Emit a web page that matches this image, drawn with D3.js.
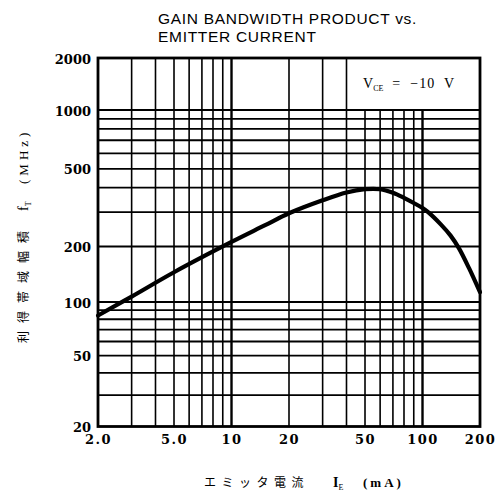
<!DOCTYPE html>
<html><head><meta charset="utf-8">
<script src="https://cdn.jsdelivr.net/npm/d3@7"></script>
<style>body{margin:0;background:#fff}svg{display:block}text{white-space:pre}</style>
</head><body>
<svg id="c" width="497" height="494"></svg>
<script>
// ---- data ----
const currentIE = [2, 3, 5, 10, 15, 20, 30, 40, 50, 60, 70, 80, 90, 100, 107, 125, 140, 155, 175, 200];
const gainFT    = [84, 107, 145, 211, 257, 296, 345, 378, 393, 393, 377, 355, 334, 315, 300, 259, 228, 196, 153, 113];
const xTickValues = [2, 5, 10, 20, 50, 100, 200];
const xTickLabels = ["2.0", "5.0", "10", "20", "50", "100", "200"];
const yTickValues = [20, 50, 100, 200, 500, 1000, 2000];
const yTickLabels = ["20", "50", "100", "200", "500", "1000", "2000"];
const xGridValues = [3, 4, 5, 6, 7, 8, 9, 10, 20, 30, 40, 50, 60, 70, 80, 90, 100];
const yGridValues = [30, 40, 50, 60, 70, 80, 90, 100, 200, 300, 400, 500, 600, 700, 800, 900, 1000];
const titleLines = ["GAIN BANDWIDTH PRODUCT vs.", "EMITTER CURRENT"];

const svg = d3.select("#c");
const x = d3.scaleLog().domain([2, 200]).range([98, 480]);
// piecewise log scale, following the printed grid
const y = d3.scaleLog().domain([20, 100, 200, 1000, 2000]).range([426.5, 302, 246.5, 110, 58]);
const decade = v => Math.abs(Math.log10(v) - Math.round(Math.log10(v))) < 1e-9;

// grid (verticals right of 40 mA stop at the 1000 line, leaving room for the note)
svg.append("g").selectAll("line").data(xGridValues).join("line")
  .attr("x1", d => x(d)).attr("x2", d => x(d))
  .attr("y1", y(20)).attr("y2", d => d >= 50 ? y(1000) : y(2000))
  .attr("stroke", "#000").attr("stroke-width", d => decade(d) ? 2.4 : 1.6);
svg.append("g").selectAll("line").data(yGridValues).join("line")
  .attr("y1", d => y(d)).attr("y2", d => y(d))
  .attr("x1", x(2)).attr("x2", x(200))
  .attr("stroke", "#000").attr("stroke-width", 1.8);

// frame
svg.append("rect").attr("x", x(2)).attr("y", y(2000))
  .attr("width", x(200) - x(2)).attr("height", y(20) - y(2000))
  .attr("fill", "none").attr("stroke", "#000").attr("stroke-width", 2.8);

// annotation
const ann = svg.append("text").attr("x", 363).attr("y", 88)
  .attr("font-family", "Liberation Serif, serif").attr("font-size", 14).attr("fill", "#000");
ann.append("tspan").text("V");
ann.append("tspan").attr("font-size", 8).attr("dy", 3).text("CE");
ann.append("tspan").attr("dy", -3).attr("letter-spacing", "1px").text("  =  −10  V");

// curve
const pts = currentIE.map((v, i) => [v, gainFT[i]]);
svg.append("path").datum(pts)
  .attr("d", d3.line().x(d => x(d[0])).y(d => y(d[1])).curve(d3.curveCatmullRom.alpha(0.5)))
  .attr("fill", "none").attr("stroke", "#000").attr("stroke-width", 4.2).attr("stroke-linecap", "round");

// axes (labels only)
const xAxis = d3.axisBottom(x).tickValues(xTickValues)
  .tickFormat((d, i) => xTickLabels[i]).tickSize(0).tickPadding(8);
const gx = svg.append("g").attr("transform", `translate(0,${y(20)})`).call(xAxis);
gx.select(".domain").remove();
gx.selectAll("text").attr("font-family", "DejaVu Serif, serif").attr("font-weight", "bold")
  .attr("font-size", 13).attr("letter-spacing", "1.5px").attr("fill", "#000");

const yAxis = d3.axisLeft(y).tickValues(yTickValues)
  .tickFormat((d, i) => yTickLabels[i]).tickSize(0).tickPadding(7);
const gy = svg.append("g").attr("transform", `translate(${x(2)},1)`).call(yAxis);
gy.select(".domain").remove();
gy.selectAll("text").attr("font-family", "DejaVu Serif, serif").attr("font-weight", "bold")
  .attr("font-size", 13).attr("fill", "#000");

// title
svg.append("g").selectAll("text").data(titleLines).join("text")
  .attr("x", 158).attr("y", (d, i) => 24 + i * 18)
  .attr("font-family", "Liberation Sans, Arial, sans-serif").attr("font-size", 15.5)
  .attr("letter-spacing", "0.7px").attr("fill", "#000").text(d => d);

// x label
const xg = svg.append("g").attr("fill", "#000");
xg.append("text").attr("x", 204).attr("y", 487)
  .attr("font-family", "Noto Sans CJK JP, sans-serif").attr("font-size", 12)
  .attr("letter-spacing", "5.5px").text("エミッタ電流");
const xi = xg.append("text").attr("x", 333).attr("y", 487)
  .attr("font-family", "Liberation Serif, serif").attr("font-size", 14).attr("font-weight", "bold");
xi.append("tspan").text("I");
xi.append("tspan").attr("font-size", 8).attr("font-weight", "normal").attr("dy", 3).text("E");
xg.append("text").attr("x", 363).attr("y", 487)
  .attr("font-family", "Liberation Serif, serif").attr("font-size", 13).attr("font-weight", "bold")
  .attr("letter-spacing", "3px").text("(mA)");

// y label (rotated)
const yg = svg.append("g").attr("transform", "rotate(-90)").attr("fill", "#000");
yg.append("text").attr("x", -343).attr("y", 28)
  .attr("font-family", "Noto Sans CJK JP, sans-serif").attr("font-size", 12)
  .attr("letter-spacing", "8px").text("利得帯域幅積");
const yf = yg.append("text").attr("x", -211).attr("y", 28)
  .attr("font-family", "Liberation Serif, serif").attr("font-size", 14);
yf.append("tspan").text("f");
yf.append("tspan").attr("font-size", 8).attr("dy", 3).text("T");
yg.append("text").attr("x", -184).attr("y", 28)
  .attr("font-family", "Liberation Serif, serif").attr("font-size", 13)
  .attr("letter-spacing", "4px").text("(MHz)");
</script>
</body></html>
